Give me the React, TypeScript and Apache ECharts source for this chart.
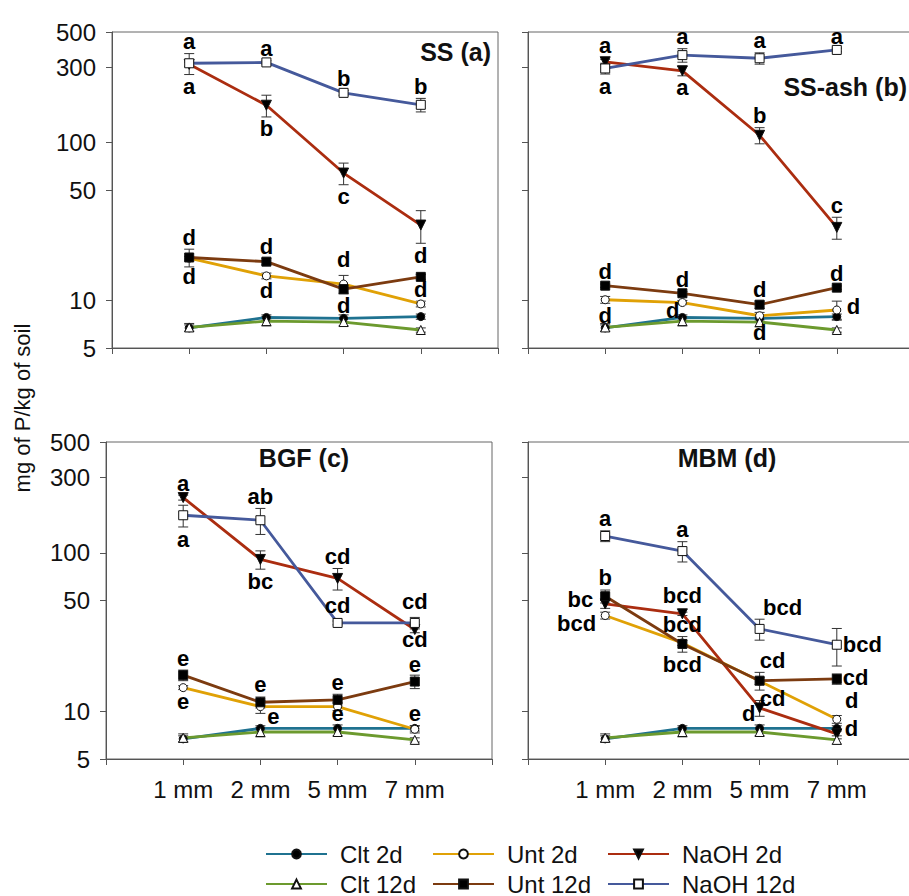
import React, { useEffect, useRef } from 'react';
import * as echarts from 'echarts';

const FONT = 'Arial, "Liberation Sans", Helvetica, sans-serif';

const categories = ['1 mm', '2 mm', '5 mm', '7 mm'];
const seriesNames = ['Clt 2d', 'Unt 2d', 'NaOH 2d', 'Clt 12d', 'Unt 12d', 'NaOH 12d'];
const yTicks = [5, 10, 50, 100, 300, 500];
const panelTitles = ['SS (a)', 'SS-ash (b)', 'BGF (c)', 'MBM (d)'];
const yTitle = 'mg of P/kg of soil';

// series order: Clt 2d, Unt 2d, NaOH 2d, Clt 12d, Unt 12d, NaOH 12d
const ssMeans = [
  [6.7, 7.8, 7.7, 7.9],
  [18.5, 14.3, 12.7, 9.5],
  [312, 172, 64, 30],
  [6.75, 7.4, 7.3, 6.5],
  [18.7, 17.6, 11.8, 14.1],
  [317, 321, 206, 173],
];
const ssErrors = [
  [0.3, 0.3, 0.4, 0.3],
  [0.5, 0.6, 1.7, 0.4],
  [10, 27, 10, 7],
  [0.4, 0.5, 0.4, 0.2],
  [2.4, 0.8, 0.7, 0.5],
  [48, 8, 7, 17],
];
const ssLetters: any[] = [
  [5, 0, 'a', 't'], [5, 1, 'a', 't'], [5, 2, 'b', 't'], [5, 3, 'b', 't'],
  [5, 0, 'a', 'b'], [2, 1, 'b', 'b'], [2, 2, 'c', 'b'], [2, 3, 'd', 'b'],
  [4, 0, 'd', 't'], [4, 1, 'd', 't'], [1, 2, 'd', 't', 0, -4],
  [1, 0, 'd', 'b', 0, 4], [1, 1, 'd', 'b'], [1, 2, 'd', 'b'], [1, 3, 'd', 't'],
];

const ashMeans = [
  [6.7, 7.8, 7.7, 7.9],
  [10.1, 9.7, 8.0, 8.7],
  [324, 284, 111, 29],
  [6.75, 7.4, 7.3, 6.5],
  [12.4, 11.1, 9.4, 12.05],
  [294, 357, 341, 385],
];
const ashErrors = [
  [0.3, 0.3, 0.3, 0.3],
  [0.5, 0.3, 0.4, 1.2],
  [12, 20, 13, 4.6],
  [0.4, 0.5, 0.5, 0.2],
  [0.3, 0.3, 0.5, 0.3],
  [23, 35, 28, 10],
];
const ashLetters: any[] = [
  [2, 0, 'a', 't', 0, -2], [5, 0, 'a', 'b'], [5, 1, 'a', 't'], [2, 1, 'a', 'b'],
  [5, 2, 'a', 't'], [2, 2, 'b', 't'], [5, 3, 'a', 't'], [2, 3, 'c', 't'],
  [4, 0, 'd', 't'], [4, 1, 'd', 't'], [4, 2, 'd', 't'], [4, 3, 'd', 't'],
  [1, 0, 'd', 'b'], [1, 1, 'd', 'l', 4, 8], [3, 2, 'd', 'b', 0, -6], [1, 3, 'd', 'r', 3, -3],
];

const bgfMeans = [
  [6.7, 7.8, 7.8, 7.8],
  [14.1, 10.7, 10.7, 7.7],
  [223, 90.8, 68.9, 32.8],
  [6.8, 7.4, 7.4, 6.6],
  [16.9, 11.4, 11.8, 15.4],
  [172.5, 160.5, 36.1, 36.1],
];
const bgfErrors = [
  [0.3, 0.3, 0.4, 0.3],
  [0.4, 1, 0.6, 0.4],
  [8, 12, 10.7, 1.5],
  [0.4, 0.5, 0.4, 0.2],
  [1.3, 0.9, 1, 1.5],
  [27, 30, 1, 3],
];
const bgfLetters: any[] = [
  [2, 0, 'a', 't'], [5, 0, 'a', 'b'], [5, 1, 'ab', 't'], [2, 1, 'bc', 'b'],
  [2, 2, 'cd', 't'], [5, 2, 'cd', 't', 0, -3], [5, 3, 'cd', 't', 0, -4], [2, 3, 'cd', 'b', 0, -5],
  [4, 0, 'e', 't'], [1, 0, 'e', 'b'], [4, 1, 'e', 't'], [1, 1, 'e', 'b', 13, -9],
  [4, 2, 'e', 't'], [1, 2, 'e', 'b', 0, -9], [4, 3, 'e', 't', 0, 1], [1, 3, 'e', 't'],
];

const mbmMeans = [
  [6.7, 7.8, 7.8, 7.8],
  [40.2, 27, 15.5, 8.9],
  [47.6, 41.2, 10.5, 7.2],
  [6.8, 7.4, 7.4, 6.6],
  [53.2, 26.6, 15.6, 16.0],
  [127.6, 102.5, 33.1, 26.3],
];
const mbmErrors = [
  [0.3, 0.3, 0.4, 0.3],
  [2, 1, 0.8, 0.5],
  [3, 1, 1.2, 0.5],
  [0.4, 0.5, 0.4, 0.4],
  [5, 3, 2, 1.2],
  [10, 15, 5, 7],
];
const mbmLetters: any[] = [
  [5, 0, 'a', 't'], [5, 1, 'a', 't'], [5, 2, 'bcd', 't', 23, 0], [5, 3, 'bcd', 'r', -1, 0],
  [4, 0, 'b', 't'], [2, 0, 'bc', 'l', -5, -4], [1, 0, 'bcd', 'l', -2, 8],
  [2, 1, 'bcd', 't', 0, -5], [4, 1, 'bcd', 't'], [4, 1, 'bcd', 'b'],
  [4, 2, 'cd', 't', 13, 0], [4, 2, 'cd', 'b', 13, -4], [2, 2, 'd', 'l', 3, 6],
  [4, 3, 'cd', 'r', -1, -1], [1, 3, 'd', 't', 15, -3], [0, 3, 'd', 'r', 1, 0],
];

const seriesStyles = [
  { color: '#1f7290', symbol: 'circle', size: 8, fill: '#000', rotate: 0 },
  { color: '#e0a106', symbol: 'circle', size: 8, fill: '#fff', rotate: 0 },
  { color: '#ab2d10', symbol: 'triangle', size: 10, fill: '#000', rotate: 180 },
  { color: '#6c9a2e', symbol: 'triangle', size: 9, fill: '#fff', rotate: 0 },
  { color: '#7c3b10', symbol: 'rect', size: 9, fill: '#000', rotate: 0 },
  { color: '#45599b', symbol: 'rect', size: 9, fill: '#fff', rotate: 0 },
];

const panels = [
  { means: ssMeans, errors: ssErrors, letters: ssLetters, grid: { left: 112, top: 32, width: 386, height: 316 }, yLabels: true, xLabels: false },
  { means: ashMeans, errors: ashErrors, letters: ashLetters, grid: { left: 528, top: 32, width: 386, height: 316 }, yLabels: false, xLabels: false },
  { means: bgfMeans, errors: bgfErrors, letters: bgfLetters, grid: { left: 106, top: 442, width: 386, height: 317 }, yLabels: true, xLabels: true },
  { means: mbmMeans, errors: mbmErrors, letters: mbmLetters, grid: { left: 528, top: 442, width: 386, height: 317 }, yLabels: false, xLabels: true },
];

const titlePlacement = [
  { x: 491, y: 52, align: 'right' },
  { x: 907, y: 87, align: 'right' },
  { x: 304, y: 458, align: 'center' },
  { x: 727, y: 458, align: 'center' },
];

function buildOption() {
  const axisLineStyle = { color: '#555', width: 1 };
  const grid = panels.map((p) => ({
    ...p.grid,
    show: true,
    borderColor: '#666',
    borderWidth: 1,
    containLabel: false,
    outerBoundsMode: 'none',
  }));
  const xAxis = panels.map((p, i) => ({
    gridIndex: i,
    type: 'value',
    min: 0,
    max: 5,
    interval: 1,
    axisLine: { show: true, lineStyle: axisLineStyle },
    axisTick: { show: true, length: 6, lineStyle: axisLineStyle },
    axisLabel: {
      show: p.xLabels,
      formatter: (v: number) => categories[v - 1] ?? '',
      fontSize: 24,
      fontFamily: FONT,
      color: '#111',
      margin: 18,
    },
    splitLine: { show: false },
  }));
  const yAxis = panels.map((p, i) => ({
    gridIndex: i,
    type: 'log',
    logBase: 10,
    min: 5,
    max: 500,
    axisLine: { show: true, lineStyle: axisLineStyle },
    axisTick: { show: true, length: 6, lineStyle: axisLineStyle, customValues: yTicks },
    axisLabel: {
      show: p.yLabels,
      customValues: yTicks,
      formatter: (v: number) => String(Math.round(v)),
      fontSize: 24,
      fontFamily: FONT,
      color: '#111',
      margin: 16,
    },
    splitLine: { show: false },
    minorTick: { show: false },
  }));

  const series: any[] = [];
  panels.forEach((p, i) => {
    // error bars
    const ebData: number[][] = [];
    p.means.forEach((arr, s) => arr.forEach((v, k) => ebData.push([k + 1, v, p.errors[s][k]])));
    series.push({
      type: 'custom',
      xAxisIndex: i,
      yAxisIndex: i,
      z: 2,
      silent: true,
      data: ebData,
      renderItem: (params: any, api: any) => {
        const x = api.value(0);
        const y = api.value(1);
        const e = api.value(2);
        const top = api.coord([x, y + e]);
        const bot = api.coord([x, Math.max(y - e, 5.01)]);
        const w = 5;
        const st = { stroke: '#333', lineWidth: 1 };
        return {
          type: 'group',
          children: [
            { type: 'line', shape: { x1: top[0], y1: top[1], x2: bot[0], y2: bot[1] }, style: st },
            { type: 'line', shape: { x1: top[0] - w, y1: top[1], x2: top[0] + w, y2: top[1] }, style: st },
            { type: 'line', shape: { x1: bot[0] - w, y1: bot[1], x2: bot[0] + w, y2: bot[1] }, style: st },
          ],
        };
      },
    });
    // lines
    p.means.forEach((arr, s) => {
      const st = seriesStyles[s];
      series.push({
        type: 'line',
        name: seriesNames[s],
        xAxisIndex: i,
        yAxisIndex: i,
        z: 3,
        data: arr.map((v, k) => [k + 1, v]),
        symbol: st.symbol,
        symbolSize: st.size,
        symbolRotate: st.rotate,
        showSymbol: true,
        lineStyle: { color: st.color, width: 2.8 },
        itemStyle: { color: st.fill, borderColor: '#111', borderWidth: 1 },
        emphasis: { disabled: true },
        silent: true,
      });
    });
    // letters
    series.push({
      type: 'scatter',
      xAxisIndex: i,
      yAxisIndex: i,
      z: 5,
      silent: true,
      symbolSize: 0.1,
      itemStyle: { color: 'rgba(0,0,0,0)', opacity: 1 },
      emphasis: { disabled: true },
      data: p.letters.map((L: any[]) => {
        const [s, k, text, place, dx = 0, dy = 0] = L;
        const v = p.means[s][k];
        const e = p.errors[s][k];
        const y = place === 't' ? v + e : place === 'b' ? v - e : v;
        const pos = ({ t: 'top', b: 'bottom', l: 'left', r: 'right' } as any)[place];
        return {
          value: [k + 1, y],
          label: {
            show: true,
            position: pos,
            distance: place === 'l' || place === 'r' ? 7 : 3,
            offset: [dx, dy],
            formatter: text,
            fontSize: 22,
            lineHeight: 18,
            fontWeight: 'bold',
            fontFamily: FONT,
            color: '#000',
            opacity: 1,
          },
        };
      }),
    });
  });

  const legendX = [265, 432, 607];
  const legendY = [842, 872];
  const legend = seriesNames.map((n, idx) => ({
    data: [n],
    left: legendX[idx % 3],
    top: legendY[Math.floor(idx / 3)],
    padding: 0,
    itemWidth: 61,
    itemHeight: 11,
    selectedMode: false,
    textStyle: { fontSize: 24, fontFamily: FONT, color: '#111', padding: [0, 0, 0, 8] },
  }));

  const graphic: any[] = [
    {
      type: 'text',
      x: 22,
      y: 408,
      rotation: Math.PI / 2,
      style: { text: yTitle, font: `22px ${FONT}`, fill: '#111', align: 'center', verticalAlign: 'middle' },
    },
    ...panelTitles.map((t, i) => ({
      type: 'text',
      x: titlePlacement[i].x,
      y: titlePlacement[i].y,
      style: { text: t, font: `bold 25px ${FONT}`, fill: '#111', align: titlePlacement[i].align, verticalAlign: 'middle' },
    })),
  ];

  return {
    animation: false,
    backgroundColor: '#fff',
    grid,
    xAxis,
    yAxis,
    series,
    legend,
    graphic,
  };
}

export default function App() {
  const ref = useRef<HTMLDivElement>(null);
  useEffect(() => {
    const chart = echarts.init(ref.current!, null, { renderer: 'svg' });
    chart.setOption(buildOption() as any);
    return () => chart.dispose();
  }, []);
  return (
    <div
      ref={ref}
      style={{ position: 'fixed', left: 0, top: 0, width: 909, height: 896, background: '#fff' }}
    />
  );
}
